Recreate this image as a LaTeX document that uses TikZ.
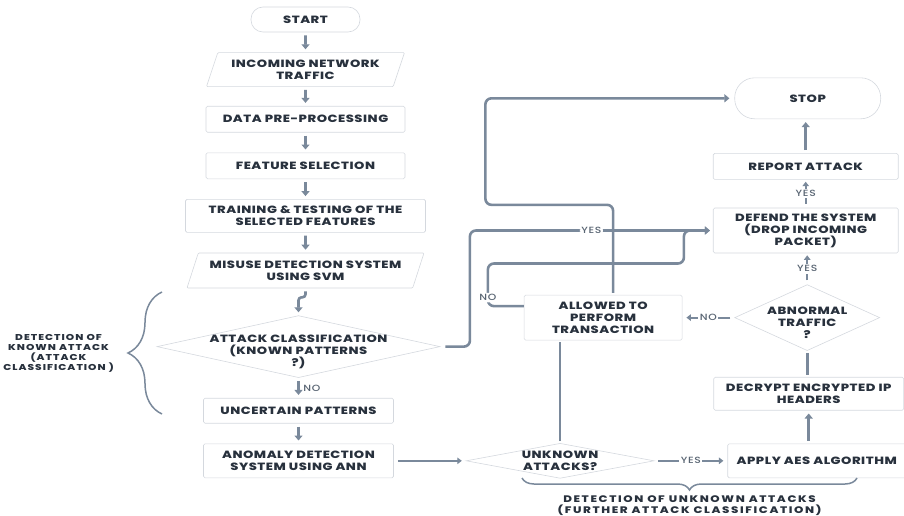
\documentclass[tikz,border=0pt]{standalone}
\usepackage{fontspec}
\setmainfont{Poppins}[FakeStretch=1.25, LetterSpace=5, BoldFont=Poppins ExtraBold]
\newfontfamily\tagfont{Poppins Medium}[FakeStretch=1.2, LetterSpace=8]
\usetikzlibrary{positioning, calc, shapes.geometric, arrows.meta, decorations.pathreplacing}

\definecolor{flowline}{RGB}{122,137,155}
\definecolor{boxline}{RGB}{212,216,222}
\definecolor{boxtext}{RGB}{40,49,61}
\definecolor{tagtext}{RGB}{88,100,114}

\begin{document}
\begin{tikzpicture}[
        x=1pt, y=1pt,
        node distance=20pt,
        >={Triangle[length=5pt,width=8pt]},
        block/.style={
            rectangle, draw=boxline, line width=0.6pt, rounded corners=1.5pt,
            align=center, text=boxtext, inner sep=0pt,
            font=\bfseries\fontsize{10.5}{12}\selectfont
        },
        terminal/.style={block, rounded corners=12pt},
        data/.style={
            block, trapezium, trapezium left angle=60, trapezium right angle=120,
            trapezium stretches body, rounded corners=1pt
        },
        decision/.style={diamond, draw=boxline, line width=0.6pt, inner sep=0pt},
        dtext/.style={align=center, text=boxtext, font=\bfseries\fontsize{10.5}{12}\selectfont},
        flow/.style={draw=flowline, line width=2.6pt, ->, shorten >=3pt, shorten <=3pt},
        link/.style={
            draw=flowline, line width=1.8pt, -{Triangle[length=4.5pt,width=6.5pt]},
            shorten >=4pt, shorten <=4pt
        },
        rail/.style={draw=flowline, line width=2.6pt, shorten >=2pt, shorten <=2pt},
        route/.style={draw=flowline, line width=2.6pt, ->, rounded corners=6pt},
        tag/.style={
            fill=white, text=tagtext, inner sep=1.5pt,
            font=\tagfont\fontsize{9}{10}\selectfont
        },
        brace/.style={draw=flowline, line width=1.5pt, decorate},
        note/.style={
            align=center, text=boxtext, inner sep=0pt,
            font=\bfseries\fontsize{8.5}{10}\selectfont\addfontfeature{LetterSpace=12}
        },
    ]
        \useasboundingbox (0,0) rectangle (904,-516);

        % Known attack column
        \node [terminal, minimum width=109pt, minimum height=25pt] (start) at (305.5,-19.5) {START};
        \node [data, below=of start, minimum width=198pt, minimum height=34pt] (incoming) {INCOMING NETWORK\\TRAFFIC};
        \node [block, below=19pt of incoming, minimum width=199pt, minimum height=26pt] (preprocess) {DATA PRE-PROCESSING};
        \node [block, below=of preprocess, minimum width=199pt, minimum height=26pt] (featsel) {FEATURE SELECTION};
        \node [block, below=of featsel, minimum width=240pt, minimum height=33pt] (training) {TRAINING \& TESTING OF THE\\SELECTED FEATURES};
        \node [data, below=of training, minimum width=237pt, minimum height=35pt] (misuse) {MISUSE DETECTION SYSTEM\\USING SVM};
        \node [decision, below=27pt of misuse, xshift=-7pt, minimum width=283pt, minimum height=62pt,
            label={[dtext, yshift=-5pt]center:{ATTACK CLASSIFICATION\\(KNOWN PATTERNS\\?)}}] (classify) {};
        \node [block, below=of classify, minimum width=190pt, minimum height=25pt] (uncertain) {UNCERTAIN PATTERNS};
        \node [block, below=of uncertain, minimum width=190pt, minimum height=34pt] (anomaly) {ANOMALY DETECTION\\SYSTEM USING ANN};

        % Unknown attack column
        \node [decision, right=72pt of anomaly, minimum width=188pt, minimum height=35pt,
            label={[dtext]center:{UNKNOWN\\ATTACKS?}}] (unknown) {};
        \node [block, right=73pt of unknown, minimum width=178pt, minimum height=34pt] (aes) {APPLY AES ALGORITHM};
        \node [block, above=33pt of aes, xshift=-8pt, minimum width=190pt, minimum height=33pt] (decrypt) {DECRYPT ENCRYPTED IP\\HEADERS};
        \node [decision, above=26pt of decrypt, xshift=-1.5pt, minimum width=145pt, minimum height=66pt,
            label={[dtext, yshift=-5pt]center:{ABNORMAL\\TRAFFIC\\?}}] (abnormal) {};
        \node [block, above=31pt of abnormal, xshift=-1.5pt, minimum width=185pt, minimum height=45pt] (defend) {DEFEND THE SYSTEM\\(DROP INCOMING\\PACKET)};
        \node [block, above=28pt of defend, minimum width=185pt, minimum height=26pt] (report) {REPORT ATTACK};
        \node [terminal, above=34pt of report, xshift=2pt, minimum width=146pt, minimum height=41pt, rounded corners=20pt] (stop) {STOP};
        \node [block, left=52pt of abnormal, minimum width=158pt, minimum height=45pt] (allowed) {ALLOWED TO\\PERFORM\\TRANSACTION};

        % Braces
        \coordinate (knowntip) at (128,-353);
        \coordinate (unknowntip) at (689.5,-490);
        \draw [brace, decoration={brace, amplitude=34pt}] (162,-414) -- (162,-292);
        \draw [brace, decoration={brace, amplitude=12pt}] (857,-478) -- (522,-478);
        \node [note, left=14pt of knowntip] (knownnote) {DETECTION OF\\KNOWN ATTACK\\(ATTACK\\CLASSIFICATION )};
        \node [note, below=5pt of unknowntip, font=\bfseries\fontsize{9.5}{11}\selectfont\addfontfeature{LetterSpace=17}] (unknownnote) {DETECTION OF UNKNOWN ATTACKS\\(FURTHER ATTACK CLASSIFICATION)};

        % Arrows
        \foreach \a/\b in {start/incoming, incoming/preprocess, preprocess/featsel, featsel/training, training/misuse, uncertain/anomaly}
            \draw [flow] (\a) -- (\b);
        \draw [flow, rounded corners=3pt] (misuse.south) -- ++(0,-9) -| (classify.north);
        \draw [flow] (classify) -- node[tag, right=2pt, fill=none] {NO} (uncertain);
        \draw [link] (anomaly) -- (unknown);
        \draw [link] (unknown) -- node[tag] {YES} (aes);
        \draw [flow] (decrypt.south |- aes.north) -- (decrypt.south);
        \draw [rail] (abnormal.south) -- (abnormal.south |- decrypt.north);
        \draw [link] (abnormal.west) -- node[tag] {NO} (allowed.east);
        \draw [link, shorten >=2pt] (abnormal.north) -- node[tag] {YES} (abnormal.north |- defend.south);
        \draw [link, shorten >=2pt] (defend.north) -- node[tag] {YES} (defend.north |- report.south);
        \draw [flow] (report.north) -- (report.north |- stop.south);
        \draw [rail] (unknown.north) -- (unknown.north |- allowed.south);

        \draw [route, shorten <=5pt, shorten >=3pt] (classify.east)
            -| ($(defend.west)+(-243,0)$)
            -- node[tag] {YES} (defend.west);
        \draw [route, shorten >=3pt] ($(allowed.west)+(0,11.5)$)
            -| node[tag, pos=0.6] {NO} ($(defend.west)+(-225,-33)$)
            -| ($(defend.west)+(-29,0)$)
            -- (defend.west);
        \draw [route, shorten <=2pt, shorten >=5pt] ($(allowed.north)+(10,0)$)
            |- ($(stop.west)+(-249,-106.5)$)
            |- (stop.west);
\end{tikzpicture}
\end{document}
